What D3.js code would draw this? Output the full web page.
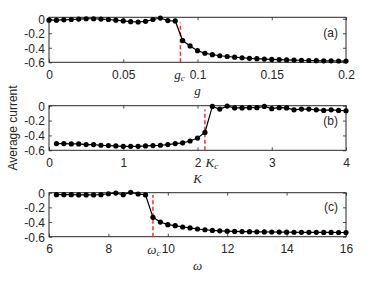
<!DOCTYPE html>
<html>
<head>
<meta charset="utf-8">
<script src="https://cdn.jsdelivr.net/npm/d3@7"></script>
<style>
	body { margin: 0; background: #fff; }
	svg { display: block; font-family: "Liberation Sans", Arial, sans-serif; }
	.tick-label { font-size: 12px; fill: #262626; }
	.sym { font-family: "Liberation Serif", "Times New Roman", serif; font-style: italic; fill: #262626; }
</style>
</head>
<body>
<svg width="382" height="286"></svg>
<script>
// DATA

var gValues = [0, 0.005, 0.01, 0.015, 0.02, 0.025, 0.03, 0.035, 0.04, 0.045,
	0.05, 0.055, 0.06, 0.065, 0.07, 0.075, 0.08, 0.085, 0.09, 0.095,
	0.1, 0.105, 0.11, 0.115, 0.12, 0.125, 0.13, 0.135, 0.14, 0.145,
	0.15, 0.155, 0.16, 0.165, 0.17, 0.175, 0.18, 0.185, 0.19, 0.195, 0.2]
var currentA = [-0.02, -0.02, -0.015, -0.01, -0.005, 0, 0, -0.005, -0.01, -0.02,
	-0.03, -0.04, -0.045, -0.035, -0.01, 0.01, -0.025, -0.03, -0.30, -0.375,
	-0.44, -0.475, -0.495, -0.51, -0.52, -0.53, -0.537, -0.545, -0.55, -0.555,
	-0.56, -0.563, -0.567, -0.57, -0.572, -0.575, -0.577, -0.579, -0.58, -0.582, -0.583]

var kValues = [0.1, 0.2, 0.3, 0.4, 0.5, 0.6, 0.7, 0.8, 0.9, 1.0,
	1.1, 1.2, 1.3, 1.4, 1.5, 1.6, 1.7, 1.8, 1.9, 2.0,
	2.1, 2.2, 2.3, 2.4, 2.5, 2.6, 2.7, 2.8, 2.9, 3.0,
	3.1, 3.2, 3.3, 3.4, 3.5, 3.6, 3.7, 3.8, 3.9, 4.0]
var currentB = [-0.509, -0.509, -0.514, -0.514, -0.523, -0.523, -0.532, -0.536, -0.541, -0.546,
	-0.546, -0.546, -0.541, -0.536, -0.532, -0.523, -0.51, -0.50, -0.475, -0.435,
	-0.36, -0.01, -0.045, -0.005, -0.03, -0.03, -0.027, -0.027, -0.01, -0.04,
	-0.027, -0.03, -0.055, -0.045, -0.045, -0.055, -0.064, -0.055, -0.064, -0.068]

var wValues = [6.25, 6.5, 6.75, 7, 7.25, 7.5, 7.75, 8, 8.25, 8.5,
	8.75, 9, 9.25, 9.5, 9.75, 10, 10.25, 10.5, 10.75, 11,
	11.25, 11.5, 11.75, 12, 12.25, 12.5, 12.75, 13, 13.25, 13.5,
	13.75, 14, 14.25, 14.5, 14.75, 15, 15.25, 15.5, 15.75, 16]
var currentC = [-0.027, -0.027, -0.027, -0.03, -0.03, -0.03, -0.027, -0.014, -0.005, -0.027,
	0.005, -0.018, -0.03, -0.336, -0.40, -0.436, -0.45, -0.468, -0.48, -0.495,
	-0.505, -0.515, -0.52, -0.525, -0.528, -0.53, -0.532, -0.534, -0.535, -0.536,
	-0.537, -0.538, -0.539, -0.54, -0.54, -0.541, -0.542, -0.542, -0.543, -0.543]

var yTicks = [0, -0.2, -0.4, -0.6]
var yTickLabels = ['0', '-0.2', '-0.4', '-0.6']

var panels = [
	{ name: '(a)', xs: gValues, ys: currentA, xDomain: [0, 0.2], yDomain: [-0.6, 0.02],
	  xTicks: [0, 0.05, 0.1, 0.15, 0.2], xTickLabels: ['0', '0.05', '0.1', '0.15', '0.2'],
	  crit: 0.0885, critTop: -0.05, critSym: 'g', xLabel: 'g' },
	{ name: '(b)', xs: kValues, ys: currentB, xDomain: [0, 4], yDomain: [-0.6, 0],
	  xTicks: [0, 1, 2, 3, 4], xTickLabels: ['0', '1', '2', '3', '4'],
	  crit: 2.1, critTop: -0.05, critSym: 'K', xLabel: 'K' },
	{ name: '(c)', xs: wValues, ys: currentC, xDomain: [6, 16], yDomain: [-0.6, 0],
	  xTicks: [6, 8, 10, 12, 14, 16], xTickLabels: ['6', '8', '10', '12', '14', '16'],
	  crit: 9.5, critTop: -0.03, critSym: 'ω', xLabel: 'ω' }
]

// LAYOUT

var width = 382
var height = 286
var left = 49
var right = 346
var tops = [17.3, 105.7, 192.7]
var heights = [45, 44.6, 44]
var tickLen = 3

var svg = d3.select("svg")

svg.append("text")
	.attr("class", "tick-label")
	.attr("transform", "translate(17,128) rotate(-90)")
	.attr("text-anchor", "middle")
	.text("Average current")

panels.forEach(function(p, i) {

	var top = tops[i]
	var bottom = top + heights[i]

	var x = d3.scaleLinear().domain(p.xDomain).range([left, right])
	var y = d3.scaleLinear().domain(p.yDomain).range([bottom, top])

	var g = svg.append("g").attr("class", "panel")

	// axes: ticks on all four sides, pointing inward
	var xb = g.append("g").attr("transform", "translate(0," + bottom + ")")
		.call(d3.axisBottom(x).tickValues(p.xTicks).tickSizeInner(-tickLen).tickSizeOuter(0)
			.tickFormat(function(d, j) { return p.xTickLabels[j] }))
	var xt = g.append("g").attr("transform", "translate(0," + top + ")")
		.call(d3.axisTop(x).tickValues(p.xTicks).tickSizeInner(-tickLen).tickSizeOuter(0).tickFormat(""))
	var yl = g.append("g").attr("transform", "translate(" + left + ",0)")
		.call(d3.axisLeft(y).tickValues(yTicks).tickSizeInner(-tickLen).tickSizeOuter(0)
			.tickFormat(function(d, j) { return yTickLabels[j] }))
	var yr = g.append("g").attr("transform", "translate(" + right + ",0)")
		.call(d3.axisRight(y).tickValues(yTicks).tickSizeInner(-tickLen).tickSizeOuter(0).tickFormat(""))

	g.selectAll(".domain").remove()
	g.selectAll(".tick line").attr("stroke", "#262626").attr("stroke-width", 0.8)
	g.selectAll(".tick text").attr("class", "tick-label").attr("font-family", null).attr("font-size", null)

	xb.selectAll(".tick text").attr("y", 8).attr("dy", "0.71em")
	yl.selectAll(".tick text").attr("x", -4).attr("dy", "0.36em")

	// box
	g.append("rect")
		.attr("x", left).attr("y", top)
		.attr("width", right - left).attr("height", bottom - top)
		.attr("fill", "none").attr("stroke", "#262626").attr("stroke-width", 1)

	// critical value
	g.append("line")
		.attr("x1", x(p.crit)).attr("x2", x(p.crit))
		.attr("y1", y(-0.6)).attr("y2", y(p.critTop))
		.attr("stroke", "#ff2a2a").attr("stroke-width", 1.5)
		.attr("stroke-dasharray", "4,2.5")

	// series
	var pts = p.xs.map(function(d, j) { return [d, p.ys[j]] })

	g.append("path")
		.datum(pts)
		.attr("fill", "none").attr("stroke", "#000").attr("stroke-width", 1.2)
		.attr("d", d3.line().x(function(d) { return x(d[0]) }).y(function(d) { return y(d[1]) }))

	g.selectAll(".dot").data(pts).enter()
		.append("circle")
		.attr("class", "dot")
		.attr("cx", function(d) { return x(d[0]) })
		.attr("cy", function(d) { return y(d[1]) })
		.attr("r", 2.6)
		.attr("fill", "#000")

	// panel tag
	g.append("text")
		.attr("class", "tick-label")
		.attr("x", right - 8).attr("y", y(-0.2) + 4)
		.attr("text-anchor", "end")
		.text(p.name)

	// critical label under the axis
	var ct = g.append("text")
		.attr("y", bottom + 17)
		.attr("text-anchor", "middle")
		.attr("x", i == 1 ? x(p.crit) + 7 : x(p.crit) + (i == 0 ? -1 : 1))
	ct.append("tspan").attr("class", "sym").attr("font-size", 13).text(p.critSym)
	ct.append("tspan").attr("class", "sym").attr("font-size", 9).attr("dy", 2).text("c")

	// axis label
	g.append("text")
		.attr("class", "sym")
		.attr("font-size", 13)
		.attr("x", (left + right) / 2)
		.attr("y", bottom + 33)
		.attr("text-anchor", "middle")
		.text(p.xLabel)
})
</script>
</body>
</html>
